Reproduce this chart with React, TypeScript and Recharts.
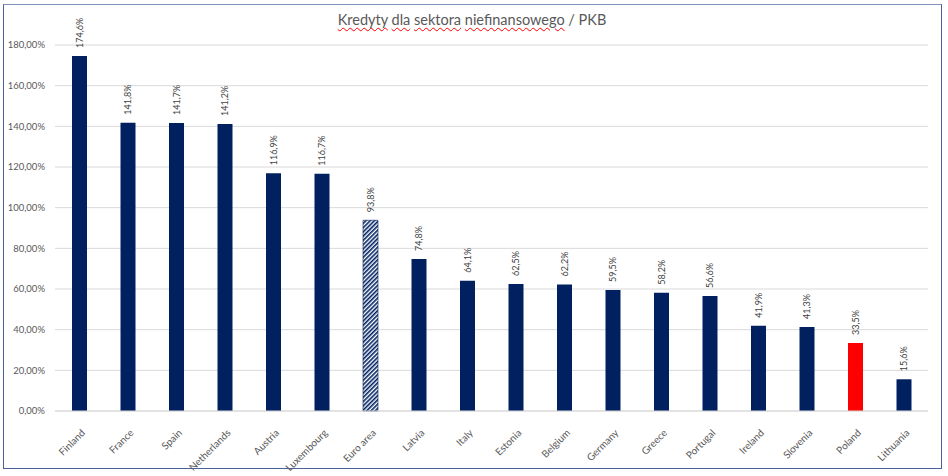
import { BarChart, Bar, XAxis, YAxis, CartesianGrid, Cell, LabelList } from 'recharts';

const COUNTRIES = [
  'Finland', 'France', 'Spain', 'Netherlands', 'Austria', 'Luxembourg', 'Euro area',
  'Latvia', 'Italy', 'Estonia', 'Belgium', 'Germany', 'Greece', 'Portugal',
  'Ireland', 'Slovenia', 'Poland', 'Lithuania',
];
const CREDIT_TO_GDP = [
  174.6, 141.8, 141.7, 141.2, 116.9, 116.7, 93.8,
  74.8, 64.1, 62.5, 62.2, 59.5, 58.2, 56.6,
  41.9, 41.3, 33.5, 15.6,
];
const Y_TICKS = [0, 20, 40, 60, 80, 100, 120, 140, 160, 180];
const TITLE_WORDS = ['Kredyty', 'dla', 'sektora', 'niefinansowego'];
const TITLE_TAIL = '/ PKB';

const NAVY = '#002060';
const SPECIAL_FILL: Record<string, string> = {
  'Euro area': 'url(#euroHatch)',
  Poland: '#ff0000',
};

const data = COUNTRIES.map((country, i) => ({ country, value: CREDIT_TO_GDP[i] }));

const FONT = 'Lato, "Liberation Sans", sans-serif';
const fmtValue = (v: number) => v.toFixed(1).replace('.', ',') + '%';
const fmtTick = (v: number) => v.toFixed(2).replace('.', ',') + '%';

function CountryTick({ x, y, payload }: any) {
  const px = x + 4;
  const py = y + 12;
  return (
    <text
      x={px}
      y={py}
      dy="0.35em"
      textAnchor="end"
      transform={`rotate(-45 ${px} ${py})`}
      fontSize={10}
      fontFamily={FONT}
      fill="#595959"
    >
      {payload.value}
    </text>
  );
}

function ValueLabel({ x, y, width, value }: any) {
  const cx = x + width / 2;
  const cy = y - 8;
  return (
    <text
      x={cx}
      y={cy}
      dy="0.35em"
      textAnchor="start"
      transform={`rotate(-90 ${cx} ${cy})`}
      fontSize={9}
      fontFamily={FONT}
      fill="#404040"
    >
      {fmtValue(value)}
    </text>
  );
}

export default function App() {
  return (
    <div style={{ position: 'absolute', left: 0, top: 0, width: 948, height: 476, background: '#fff' }}>
      <div
        style={{
          position: 'absolute', left: 3, top: 4, width: 937, height: 463,
          border: '1.5px solid #4a6199', borderTopColor: '#7f93bd',
        }}
      />
      <div
        style={{
          position: 'absolute', left: 0, top: 11, width: 944, textAlign: 'center',
          fontFamily: FONT, fontSize: 14.5, color: '#595959',
        }}
      >
        {TITLE_WORDS.map((w) => (
          <span key={w}>
            <span
              style={{
                textDecorationLine: 'underline', textDecorationStyle: 'wavy',
                textDecorationColor: '#ff0000', textDecorationThickness: 1,
                textUnderlineOffset: 2,
              }}
            >
              {w}
            </span>{' '}
          </span>
        ))}
        {TITLE_TAIL}
      </div>
      <BarChart
        width={948}
        height={476}
        data={data}
        margin={{ top: 45, right: 20, bottom: 0, left: 0 }}
        style={{ position: 'absolute', left: 0, top: 0 }}
      >
        <defs>
          <pattern id="euroHatch" width="3" height="3" patternUnits="userSpaceOnUse" patternTransform="rotate(45)">
            <rect width="3" height="3" fill="#ffffff" />
            <rect width="1.6" height="3" fill={NAVY} />
          </pattern>
        </defs>
        <CartesianGrid vertical={false} stroke="#d9d9d9" />
        <XAxis
          dataKey="country"
          height={65}
          interval={0}
          tickLine={false}
          axisLine={{ stroke: '#d9d9d9' }}
          tick={<CountryTick />}
        />
        <YAxis
          width={55}
          domain={[0, 180]}
          ticks={Y_TICKS}
          interval={0}
          tickLine={false}
          axisLine={false}
          tickMargin={4}
          tickFormatter={fmtTick}
          tick={{ fontSize: 9.5, fontFamily: FONT, fill: '#595959' }}
        />
        <Bar dataKey="value" barSize={15} isAnimationActive={false}>
          {data.map((d) => (
            <Cell
              key={d.country}
              fill={SPECIAL_FILL[d.country] ?? NAVY}
              stroke={d.country === 'Euro area' ? NAVY : 'none'}
              strokeWidth={0.6}
            />
          ))}
          <LabelList dataKey="value" content={<ValueLabel />} />
        </Bar>
      </BarChart>
    </div>
  );
}
